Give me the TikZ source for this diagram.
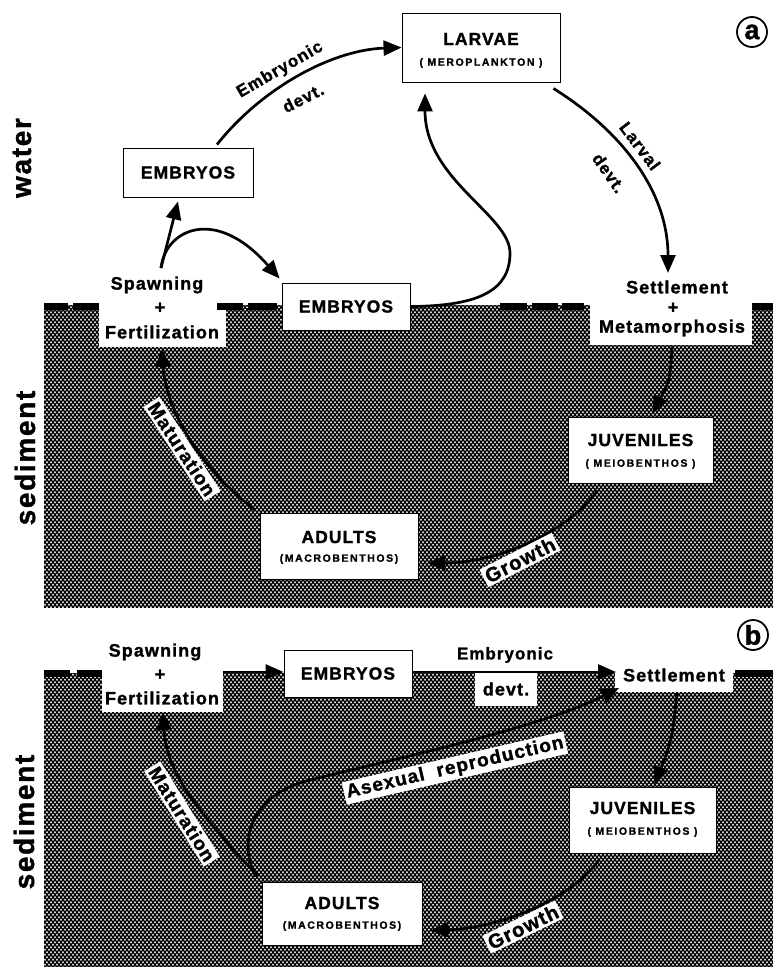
\documentclass[tikz,border=0pt]{standalone}
\usepackage{fontspec}
\setmainfont{Liberation Sans}[LetterSpace=6, BoldFeatures={FakeBold=1.3}]
\newfontfamily\subf{Liberation Sans}[LetterSpace=15, BoldFeatures={FakeBold=1}]
\usetikzlibrary{arrows.meta,patterns,calc}

\pgfdeclarepatternformonly{mesh}{\pgfqpoint{-1pt}{-1pt}}{\pgfqpoint{5pt}{6pt}}{\pgfqpoint{4pt}{5pt}}{%
  \pgfpathellipse{\pgfqpoint{1pt}{1.25pt}}{\pgfqpoint{0.9pt}{0pt}}{\pgfqpoint{0pt}{1.3pt}}%
  \pgfpathellipse{\pgfqpoint{3pt}{3.75pt}}{\pgfqpoint{0.9pt}{0pt}}{\pgfqpoint{0pt}{1.3pt}}%
  \pgfusepath{fill}}

\tikzset{
  lbltext/.style={font=\fontsize{17.5}{18}\selectfont\bfseries, inner sep=0pt},
  bigtext/.style={font=\fontsize{18}{19}\selectfont\bfseries, inner sep=0pt},
  subtext/.style={font=\subf\fontsize{10.5}{11}\selectfont\bfseries, inner sep=0pt},
  stagebox/.style={draw, line width=0.9pt, fill=white, inner sep=0pt},
  arr/.style={line width=2.7pt, -{Triangle[length=18pt,width=15pt]}},
  tagbox/.style={fill=white, inner sep=2.5pt, font=\fontsize{19}{20}\selectfont\bfseries},
  plainlbl/.style={inner sep=0pt, font=\fontsize{17}{18}\selectfont\bfseries},
  sidelbl/.style={font=\fontsize{28}{30}\selectfont\bfseries, rotate=90, inner sep=0pt},
  panelmark/.style={circle, draw, line width=1.8pt, inner sep=0pt, minimum size=30pt,
                font=\fontsize{27}{27}\selectfont\bfseries},
  hatchbg/.style={fill=black},
  hatchfill/.style={pattern=mesh, pattern color=white},
  cutwhite/.style={fill=white},
  surfbar/.style={fill=black}
}

\begin{document}
\begin{tikzpicture}[x=1pt,y=-1pt]
\useasboundingbox[fill=white] (0,0) rectangle (773,971);

% ---------------- panel a : sediment ----------------
\fill[hatchbg] (44,305) rectangle (773,608);
\fill[hatchfill] (44,305) rectangle (773,608);
\fill[cutwhite] (99,298) rectangle (226,347);
\fill[cutwhite] (590,298) rectangle (752,345);
\foreach \a/\b in {44/68,73/99,217/243,248/277,500/527,532/558,562/584,752/773}
  \fill[surfbar] (\a,303) rectangle (\b,310);

% ---------------- panel b : sediment ----------------
\fill[hatchbg] (44,673) rectangle (773,967);
\fill[hatchfill] (44,673) rectangle (773,967);
\fill[cutwhite] (102,664) rectangle (223,712);
\fill[cutwhite] (615,664) rectangle (733,692);
\foreach \a/\b in {44/70,77/102,735/773}
  \fill[surfbar] (\a,670) rectangle (\b,677);

% ---------------- side labels ----------------
\node[sidelbl] (water) at (22,158) {water};
\node[sidelbl] (seda) at (25,458) {sediment};
\node[sidelbl] (sedb) at (24,822) {sediment};
\node[panelmark] (pa) at (752,32) {a};
\node[panelmark] (pb) at (753,635) {b};

% ---------------- panel a : nodes ----------------
\node[stagebox, minimum width=158pt, minimum height=69pt] (larva) at (481,47.5) {};
\node[lbltext] (larvat) at (481,39) {LARVAE};
\node[subtext] (larvas) at (481,63) {( MEROPLANKTON )};

\node[stagebox, lbltext, minimum width=130pt, minimum height=49pt] (emb1) at (188,172.5) {EMBRYOS};
\node[stagebox, lbltext, minimum width=128pt, minimum height=47pt] (emb2) at (346,306.5) {EMBRYOS};

\node[bigtext] (spwa) at (157,285) {Spawning};
\node[bigtext] (plsa) at (160,308) {+};
\node[bigtext] (fera) at (162,332) {Fertilization};

\node[bigtext] (setta) at (677,287) {Settlement};
\node[bigtext] (plst) at (673,308) {+};
\node[bigtext] (meta) at (672,328) {Metamorphosis};

\node[stagebox, minimum width=145pt, minimum height=66pt] (juva) at (640.5,450) {};
\node[lbltext] (juvat) at (640.5,440) {JUVENILES};
\node[subtext] (juvas) at (640.5,464) {( MEIOBENTHOS )};

\node[stagebox, minimum width=158pt, minimum height=66pt] (adulta) at (339,546) {};
\node[lbltext] (adultat) at (339,537) {ADULTS};
\node[subtext] (adultas) at (339,559) {(MACROBENTHOS)};

\coordinate (spa) at (161,268);
\coordinate (seta) at (668,273);
\coordinate (meto) at (672,347);
\coordinate (ferin) at (162,349);

% ---------------- panel a : arrows ----------------
\draw[arr] (spa) -- ($(emb1.south)+(-10,4)$);
\draw[arr] (spa) .. controls (165,230) and (215,205) .. ($(emb2.north west)+(-2,-4)$);
\draw[arr] ($(emb1.north)+(29,-3)$) .. controls (260,90) and (330,50) .. (larva.west);
\draw[arr] (emb2.east) .. controls (480,306) and (510,290) .. (510,253)
           .. controls (510,215) and (425,180) .. ($(larva.south)+(-56,11)$);
\draw[arr] ($(larva.south east)+(-7,6)$) .. controls (620,130) and (668,190) .. (seta);
\draw[arr] (meto) .. controls (670,380) .. ($(juva.north)+(12,-3)$);
\draw[arr] ($(juva.south)+(-43,7)$) .. controls (570,530) and (500,563) .. ($(adulta.east)+(9,17)$);
\draw[arr] ($(adulta.north west)+(-5,-3)$) .. controls (190,460) and (165,400) .. (ferin);

% labels a
\node[plainlbl, rotate=30] (lemb) at (280,70) {Embryonic};
\node[plainlbl, rotate=27] (ldev) at (303,98) {devt.};
\node[plainlbl, rotate=-53] (llar) at (640,146) {Larval};
\node[plainlbl, rotate=-55] (ldev2) at (609,173) {devt.};
\node[tagbox, font=\fontsize{20}{21}\selectfont\bfseries, rotate=27] (lgro) at (520,560) {Growth};
\node[tagbox, rotate=-57] (lmat) at (182,449) {Maturation};

% ---------------- panel b : nodes ----------------
\node[bigtext] (spwb) at (155,652) {Spawning};
\node[bigtext] (plsb) at (160,675) {+};
\node[bigtext] (ferb) at (162,698) {Fertilization};

\node[stagebox, lbltext, minimum width=128pt, minimum height=47pt] (embb) at (348,673.5) {EMBRYOS};
\node[bigtext] (settb) at (674,675) {Settlement};

\node[stagebox, minimum width=147pt, minimum height=66pt] (juvb) at (642.5,820) {};
\node[lbltext] (juvbt) at (642.5,808) {JUVENILES};
\node[subtext] (juvbs) at (642.5,832) {( MEIOBENTHOS )};

\node[stagebox, minimum width=160pt, minimum height=63pt] (adultb) at (342,913.5) {};
\node[lbltext] (adultbt) at (342,903) {ADULTS};
\node[subtext] (adultbs) at (342,926) {(MACROBENTHOS)};

\coordinate (spb) at (223,672);
\coordinate (setb) at (616,672);
\coordinate (setbl) at (619,688);
\coordinate (setbo) at (677,693);
\coordinate (ferbin) at (163,712);

% ---------------- panel b : arrows ----------------
\draw[arr] (spb) -- ($(embb.west)+(0,-1.5)$);
\draw[arr] ($(embb.east)+(0,-1.5)$) -- (setb);
\draw[arr] ($(adultb.north west)+(-6,-5)$) .. controls (238,840) and (250,795) .. (310,780)
           .. controls (390,760) and (540,728) .. (setbl);
\draw[arr] (setbo) .. controls (672,740) .. ($(juvb.north)+(12,-2)$);
\draw[arr] ($(juvb.south)+(-44,7)$) .. controls (570,900) and (500,928) .. ($(adultb.east)+(8,17)$);
\draw[arr] ($(adultb.north west)+(-4,-6)$) .. controls (195,810) and (166,770) .. (ferbin);

% labels b
\node[plainlbl] (lembb) at (505,655) {Embryonic};
\node[tagbox, font=\fontsize{18}{19}\selectfont\bfseries, minimum width=62pt, minimum height=33pt, inner sep=0pt] (ldevb) at (506,689) {devt.};
\node[tagbox, rotate=13] (lasex) at (455,768) {Asexual\ \ reproduction};
\node[tagbox, font=\fontsize{20}{21}\selectfont\bfseries, rotate=26] (lgrob) at (523,927) {Growth};
\node[tagbox, rotate=-58] (lmatb) at (182,814) {Maturation};

\end{tikzpicture}
\end{document}
